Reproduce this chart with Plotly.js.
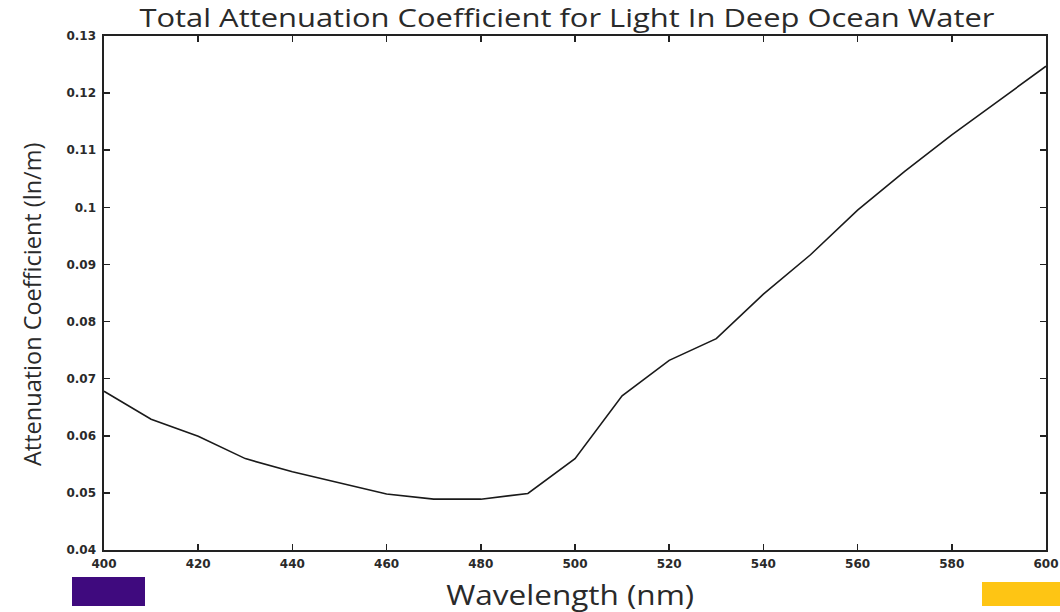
<!DOCTYPE html>
<html>
<head>
<meta charset="utf-8">
<script src="https://cdn.plot.ly/plotly-3.0.1.min.js"></script>
<style>html,body{margin:0;padding:0;background:#fff;}#chart{width:1060px;height:612px;}</style>
</head>
<body>
<div id="chart"></div>
<script>
// Wavelength (nm)
const wavelength = [400,410,420,430,440,450,460,470,480,490,500,510,520,530,540,550,560,570,580,590,600];
// Total attenuation coefficient (ln/m)
const attenuation = [0.0678,0.0629,0.0599,0.0560,0.0537,0.0517,0.0498,0.0489,0.0489,0.0499,0.0560,0.0670,0.0732,0.0770,0.0848,0.0917,0.0995,0.1063,0.1127,0.1187,0.1247];
const xTicks = [400,420,440,460,480,500,520,540,560,580,600];
const yTicks = [0.04,0.05,0.06,0.07,0.08,0.09,0.1,0.11,0.12,0.13];

const L = 104, R = 1046, T = 36, B = 550;
const px = v => (v - L) / (R - L);
const py = v => (B - v) / (B - T);

const tickFont = {family: 'DejaVu Sans, sans-serif', size: 12, color: '#2a2a2a', weight: 'bold'};
const labelFont = {family: 'Open Sans, sans-serif', color: '#2a2a2a'};

const data = [{
  x: wavelength, y: attenuation, type: 'scatter', mode: 'lines',
  line: {color: '#1a1a1a', width: 1.6}, hoverinfo: 'x+y'
}];

const layout = {
  width: 1060, height: 612,
  margin: {l: L, r: 1060 - R, t: T, b: 612 - B},
  paper_bgcolor: '#fff', plot_bgcolor: '#fff',
  showlegend: false,
  title: {
    text: 'Total Attenuation Coefficient for Light In Deep Ocean Water',
    font: Object.assign({size: 25}, labelFont),
    x: 567 / 1060, xanchor: 'center', xref: 'container',
    y: 1 - 18 / 612, yanchor: 'middle', yref: 'container'
  },
  xaxis: {
    range: [400, 600], tickvals: xTicks, ticktext: xTicks.map(String),
    ticks: 'inside', ticklen: 6, tickwidth: 1.5, tickcolor: '#222',
    showline: true, linecolor: '#222', linewidth: 1.6, mirror: 'ticks',
    showgrid: false, zeroline: false, tickfont: tickFont, ticklabelstandoff: 2
  },
  yaxis: {
    range: [0.04, 0.13], tickvals: yTicks, ticktext: yTicks.map(String),
    ticks: 'inside', ticklen: 6, tickwidth: 1.5, tickcolor: '#222',
    showline: true, linecolor: '#222', linewidth: 1.6, mirror: 'ticks',
    showgrid: false, zeroline: false, tickfont: tickFont, ticklabelstandoff: 4
  },
  annotations: [
    {text: 'Wavelength (nm)', xref: 'paper', yref: 'paper', x: px(570), y: py(594),
     xanchor: 'center', yanchor: 'middle', showarrow: false, font: Object.assign({size: 28}, labelFont)},
    {text: 'Attenuation Coefficient (ln/m)', xref: 'paper', yref: 'paper', x: px(32), y: py(305),
     xanchor: 'center', yanchor: 'middle', textangle: -90, showarrow: false, font: Object.assign({size: 23.5}, labelFont)}
  ],
  shapes: [
    {type: 'rect', xref: 'paper', yref: 'paper', x0: px(72), x1: px(145), y0: py(606), y1: py(577),
     fillcolor: '#3f0a7e', line: {width: 0}},
    {type: 'rect', xref: 'paper', yref: 'paper', x0: px(982), x1: px(1060), y0: py(606), y1: py(582),
     fillcolor: '#fec514', line: {width: 0}}
  ]
};

Plotly.newPlot('chart', data, layout, {displayModeBar: false, staticPlot: true}).then(gd => {
  // The reference's title and x-axis label are set in a wider face; stretch to match their width.
  const t = gd.querySelector('.infolayer .gtitle');
  if (t) { t.setAttribute('textLength', '855'); t.setAttribute('lengthAdjust', 'spacingAndGlyphs'); }
  const a = gd.querySelector('.annotation[data-index="0"] text');
  if (a) { a.setAttribute('textLength', '248'); a.setAttribute('lengthAdjust', 'spacingAndGlyphs'); }
});
</script>
</body>
</html>
